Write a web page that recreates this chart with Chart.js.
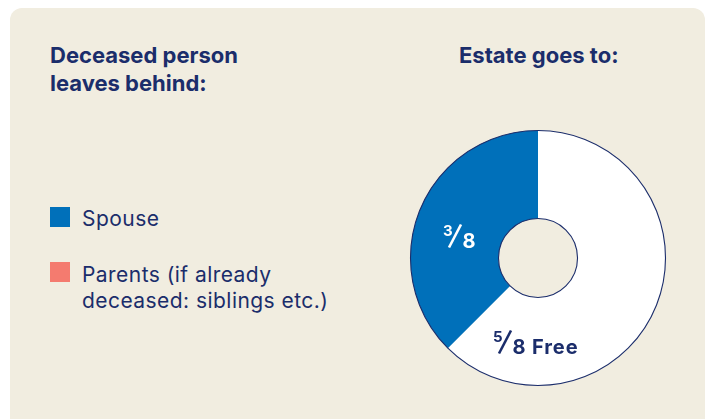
<!DOCTYPE html>
<html>
<head>
<meta charset="utf-8">
<script src="https://cdn.jsdelivr.net/npm/chart.js@4"></script>
<style>
  html, body { margin: 0; padding: 0; background: #ffffff; width: 711px; height: 419px; overflow: hidden; }
  body { font-family: Inter, "Noto Sans", Roboto, sans-serif; color: #1b2d6b; }
  #panel { position: absolute; left: 10px; top: 8px; width: 695px; height: 430px; background: #f1ede0; border-radius: 12px; }
  .title { position: absolute; font-weight: 700; font-size: 22px; line-height: 27.5px; color: #1b2d6b; white-space: nowrap; }
  #leftTitle { left: 40px; top: 34.2px; }
  #rightTitle { left: 449px; top: 34.2px; }
  .item { position: absolute; left: 72px; font-size: 21px; line-height: 25.5px; letter-spacing: 0.45px; color: #1b2d6b; white-space: nowrap; }
  .sw { position: absolute; left: 40px; width: 20px; height: 20px; }
  #chartBox { position: absolute; left: 398px; top: 119.5px; width: 260px; height: 260px; }
</style>
</head>
<body>
<div id="panel">
  <div class="title" id="leftTitle">Deceased person<br>leaves behind:</div>
  <div class="title" id="rightTitle">Estate goes to:</div>
  <div id="legend"></div>
  <div id="chartBox"><canvas id="c"></canvas></div>
</div>
<script>
// ---- data ----
const legendLabels = ["Spouse", "Parents (if already<br>deceased: siblings etc.)"];
const legendColors = ["#0070ba", "#f47b6f"];
const sliceLabels = ["Free", "Spouse", "Parents"];
const sliceValues = [5, 3, 0];            // eighths of the estate
const sliceNumerators = ["5", "3", ""];
const sliceDenominators = ["8", "8", ""];
const sliceSuffix = ["Free", "", ""];
const sliceColors = ["#ffffff", "#0070ba", "#f47b6f"];
const sliceTextColors = ["#1b2d6b", "#ffffff", "#ffffff"];

// legend (panel-relative tops)
const legendTextTops = [197.6, 254.3];
const legendSwatchTops = [199.3, 253.7];
const lg = document.getElementById('legend');
legendLabels.forEach((t, i) => {
  const sw = document.createElement('span');
  sw.className = 'sw';
  sw.style.top = legendSwatchTops[i] + 'px';
  sw.style.background = legendColors[i];
  lg.appendChild(sw);
  const d = document.createElement('div');
  d.className = 'item';
  d.style.top = legendTextTops[i] + 'px';
  d.innerHTML = t;
  lg.appendChild(d);
});

const ringPlugin = {
  id: 'ringOutline',
  afterDatasetsDraw(chart, args, opts) {
    const arc = chart.getDatasetMeta(0).data[0];
    if (!arc) return;
    const ctx = chart.ctx;
    ctx.save();
    ctx.strokeStyle = opts.color;
    ctx.lineWidth = opts.width;
    [arc.outerRadius, arc.innerRadius].forEach(r => {
      ctx.beginPath();
      ctx.arc(arc.x, arc.y, r, 0, Math.PI * 2);
      ctx.stroke();
    });
    ctx.restore();
  }
};

const fracPlugin = {
  id: 'fracLabels',
  afterDatasetsDraw(chart, args, opts) {
    const ctx = chart.ctx;
    const meta = chart.getDatasetMeta(0);
    const fam = 'Inter, "Noto Sans", sans-serif';
    meta.data.forEach((arc, i) => {
      if (!sliceNumerators[i]) return;
      const off = opts.offsets[i];
      const x = arc.x + off[0];
      const base = arc.y + off[1];
      const s = off[2];
      ctx.save();
      ctx.fillStyle = sliceTextColors[i];
      ctx.strokeStyle = sliceTextColors[i];
      ctx.textBaseline = 'alphabetic';
      ctx.textAlign = 'left';
      // numerator
      ctx.font = '700 ' + Math.round(s * 0.74) + 'px ' + fam;
      ctx.fillText(sliceNumerators[i], x, base - s * 0.6);
      // slash
      ctx.lineWidth = s * 0.13;
      ctx.lineCap = 'butt';
      ctx.beginPath();
      ctx.moveTo(x + s * 0.3, base);
      ctx.lineTo(x + s * 0.9, base - s * 1.15);
      ctx.stroke();
      // denominator
      ctx.font = '700 ' + s + 'px ' + fam;
      const dx = x + s * 0.97;
      ctx.fillText(sliceDenominators[i], dx, base);
      const dw = ctx.measureText(sliceDenominators[i]).width;
      if (sliceSuffix[i]) {
        if ('letterSpacing' in ctx) ctx.letterSpacing = '0.9px';
        ctx.fillText(sliceSuffix[i], dx + dw + s * 0.33, base);
      }
      ctx.restore();
    });
  }
};

new Chart(document.getElementById('c'), {
  type: 'doughnut',
  data: {
    labels: sliceLabels,
    datasets: [{
      data: sliceValues,
      backgroundColor: sliceColors,
      borderWidth: 0
    }]
  },
  options: {
    responsive: true,
    maintainAspectRatio: false,
    animation: false,
    cutout: '31%',
    rotation: 0,
    layout: { padding: 2.5 },
    plugins: {
      legend: { display: false },
      tooltip: { enabled: false },
      ringOutline: { color: "#1b2d6b", width: 1.1 },
      fracLabels: { offsets: [[-45, 95.5, 20], [-95, -10.5, 20]] }
    }
  },
  plugins: [ringPlugin, fracPlugin]
});
</script>
</body>
</html>
